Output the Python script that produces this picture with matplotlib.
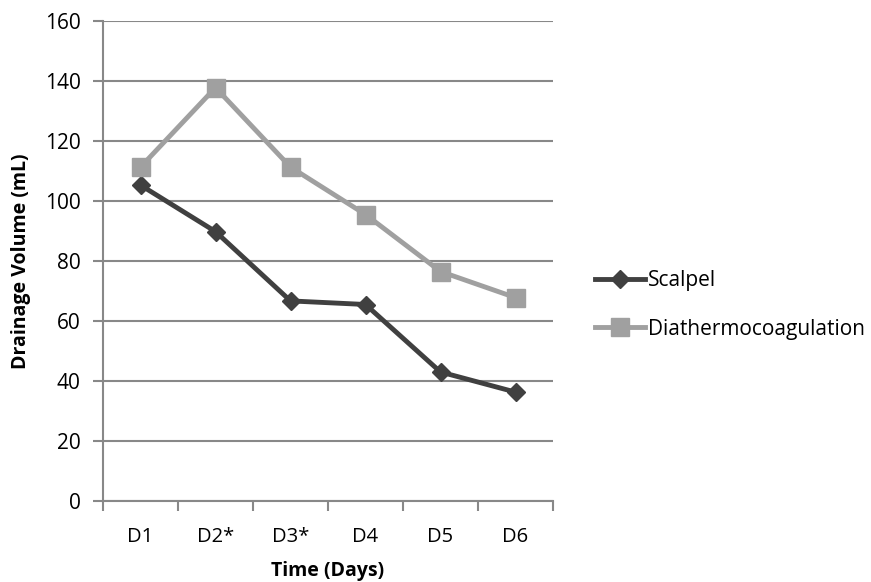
import matplotlib
matplotlib.use("Agg")
import matplotlib.pyplot as plt
from matplotlib.ticker import FixedLocator, NullFormatter

days = ["D1", "D2*", "D3*", "D4", "D5", "D6"]
scalpel = [105.3, 89.8, 66.7, 65.5, 43.0, 36.3]
diathermo = [111.3, 137.8, 111.3, 95.5, 76.5, 67.8]
yticks = [0, 20, 40, 60, 80, 100, 120, 140, 160]

plt.rcParams['font.family'] = ['Open Sans', 'DejaVu Sans']

fig = plt.figure(figsize=(8.71, 5.82), dpi=100)
ax = fig.add_axes([103/871, 1-501/582, 450/871, 480/582])

x = list(range(len(days)))
ax.plot(x, scalpel, color='#404040', lw=3.5, marker='D', ms=9, label='Scalpel', zorder=3)
ax.plot(x, diathermo, color='#a0a0a0', lw=3.5, marker='s', ms=13, label='Diathermocoagulation', zorder=3)

ax.set_xlim(-0.5, len(days) - 0.5)
ax.set_ylim(0, 160)
ax.set_yticks(yticks)
ax.set_yticklabels([str(v) for v in yticks], fontsize=15)
ax.set_xticks(x)
ax.set_xticklabels(days, fontsize=14.5)
ax.tick_params(axis='x', which='major', length=0, pad=19)
ax.xaxis.set_minor_locator(FixedLocator([i - 0.5 for i in range(len(days) + 1)]))
ax.xaxis.set_minor_formatter(NullFormatter())
ax.tick_params(axis='x', which='minor', length=7, width=1.5, color='#888888', direction='out')
ax.tick_params(axis='y', length=7, width=1.5, color='#888888', direction='out', pad=9)
ax.grid(axis='y', color='#888888', lw=1.5)
ax.set_axisbelow(True)
for s in ['top', 'right']:
    ax.spines[s].set_visible(False)
for s in ['left', 'bottom']:
    ax.spines[s].set_color('#888888')
    ax.spines[s].set_linewidth(1.5)

ax.set_xlabel('Time (Days)', fontsize=14, fontweight='bold', labelpad=10)
ax.set_ylabel('Drainage Volume (mL)', fontsize=14, fontweight='bold', labelpad=10)

h, l = ax.get_legend_handles_labels()
fig.legend(h, l, loc='center left', bbox_to_anchor=(585/871, 1-305/582), frameon=False,
           fontsize=15, handlelength=2.4, handletextpad=0.1, labelspacing=1.3, borderpad=0)

fig.savefig('out.png', dpi=100)
